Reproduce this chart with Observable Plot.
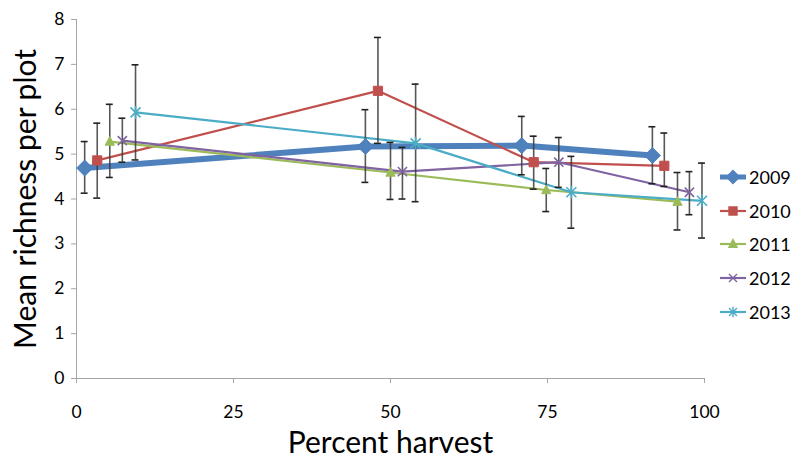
<!DOCTYPE html>
<html><head><meta charset="utf-8">
<script src="https://cdn.jsdelivr.net/npm/d3@7"></script>
<script src="https://cdn.jsdelivr.net/npm/@observablehq/plot@0.6"></script>
<style>
body{margin:0;background:#fff;font-family:Lato,"Open Sans",sans-serif;}
#wrap{position:relative;width:791px;height:465px;overflow:hidden;}
#legend{position:absolute;left:718px;top:160px;}
.item{display:flex;align-items:center;height:33.7px;font-size:18px;color:#000;}
.item svg{margin-right:1px;}
</style></head><body><div id="wrap"><div id="legend"></div></div>
<script>
// ---- data ----
const years = ["2009", "2010", "2011", "2012", "2013"];
const colors = ["#4F81BD", "#C0504D", "#9BBB59", "#8064A2", "#4BACC6"];
const xTicks = [0, 25, 50, 75, 100];
const yTicks = [0, 1, 2, 3, 4, 5, 6, 7, 8];

const harvest2009 = [1.3, 46.0, 70.9, 91.7];
const mean2009 = [4.69, 5.17, 5.19, 4.97];
const hi2009 = [5.28, 5.99, 5.84, 5.61];
const lo2009 = [4.13, 4.37, 4.54, 4.34];

const harvest2010 = [3.3, 48.0, 72.8, 93.6];
const mean2010 = [4.86, 6.41, 4.82, 4.74];
const hi2010 = [5.69, 7.60, 5.40, 5.47];
const lo2010 = [4.02, 5.24, 4.22, 4.28];

const harvest2011 = [5.3, 50.0, 74.8, 95.7];
const mean2011 = [5.28, 4.59, 4.20, 3.94];
const hi2011 = [6.11, 5.26, 4.68, 4.59];
const lo2011 = [4.48, 3.99, 3.72, 3.31];

const harvest2012 = [7.3, 51.9, 76.8, 97.6];
const mean2012 = [5.30, 4.61, 4.82, 4.15];
const hi2012 = [5.80, 5.15, 5.37, 4.61];
const lo2012 = [4.82, 4.00, 4.26, 3.65];

const harvest2013 = [9.4, 54.0, 78.8, 99.6];
const mean2013 = [5.93, 5.24, 4.15, 3.96];
const hi2013 = [6.99, 6.56, 4.95, 4.80];
const lo2013 = [4.87, 3.94, 3.35, 3.13];

const seriesX = [harvest2009, harvest2010, harvest2011, harvest2012, harvest2013];
const seriesY = [mean2009, mean2010, mean2011, mean2012, mean2013];
const seriesHi = [hi2009, hi2010, hi2011, hi2012, hi2013];
const seriesLo = [lo2009, lo2010, lo2011, lo2012, lo2013];

// ---- symbols ----
const rad = s => Math.sqrt(s / Math.PI);
const symDiamond = {draw(c, s){const r = rad(s); c.moveTo(0,-r); c.lineTo(r,0); c.lineTo(0,r); c.lineTo(-r,0); c.closePath();}};
const symSquare = {draw(c, s){const r = rad(s); c.rect(-r,-r,2*r,2*r);}};
const symTriangle = {draw(c, s){const r = rad(s); c.moveTo(0,-r*1.1); c.lineTo(r,r*0.8); c.lineTo(-r,r*0.8); c.closePath();}};
const symTimes = {draw(c, s){const r = rad(s); c.moveTo(-r,-r); c.lineTo(r,r); c.moveTo(r,-r); c.lineTo(-r,r);}};
const symStar = {draw(c, s){const r = rad(s); c.moveTo(-r,-r); c.lineTo(r,r); c.moveTo(r,-r); c.lineTo(-r,r); c.moveTo(0,-r*1.3); c.lineTo(0,r*1.3);}};
const symbols = [symDiamond, symSquare, symTriangle, symTimes, symStar];
const symR = [8, 4.6, 4.6, 4.6, 5];
const filled = [true, true, true, false, false];
const lineW = [6, 2.2, 2.2, 2.2, 2.2];

const rows = [];
years.forEach((yr, i) => seriesX[i].forEach((x, j) => rows.push({year: yr, i, x, y: seriesY[i][j], hi: seriesHi[i][j], lo: seriesLo[i][j]})));

const font = "Lato, 'Open Sans', sans-serif";
const marks = [
  Plot.ruleX([0], {stroke: "#A6A6A6", strokeWidth: 1}),
  Plot.ruleY([0], {stroke: "#A6A6A6", strokeWidth: 1}),
  Plot.axisY({ticks: yTicks, tickSize: 5, tickPadding: 7, fontSize: 17.5, stroke: "#A6A6A6", fill: "#000", label: null}),
  Plot.axisX({ticks: xTicks, tickSize: 5, tickPadding: 22, fontSize: 17.5, stroke: "#A6A6A6", fill: "#000", label: null}),
];
years.forEach((yr, i) => {
  const d = rows.filter(r => r.i === i);
  marks.push(Plot.line(d, {x: "x", y: "y", stroke: colors[i], strokeWidth: lineW[i], strokeLinejoin: "round"}));
});
marks.push(
  Plot.ruleX(rows, {x: "x", y1: "lo", y2: "hi", stroke: "#3a3a3a", strokeWidth: 1.6, strokeOpacity: 0.85}),
  Plot.ruleY(rows, {y: "hi", x1: d => d.x - 0.55, x2: d => d.x + 0.55, stroke: "#222", strokeWidth: 1.6}),
  Plot.ruleY(rows, {y: "lo", x1: d => d.x - 0.55, x2: d => d.x + 0.55, stroke: "#222", strokeWidth: 1.6})
);
years.forEach((yr, i) => {
  const d = rows.filter(r => r.i === i);
  marks.push(Plot.dot(d, {x: "x", y: "y", symbol: () => symbols[i], r: symR[i],
    fill: filled[i] ? colors[i] : "none", stroke: colors[i], strokeWidth: filled[i] ? 1 : 1.6}));
});
marks.push(
  Plot.text(["Percent harvest"], {frameAnchor: "bottom", dy: 74, fontSize: 30, fill: "#000", textAnchor: "middle"}),
  Plot.text(["Mean richness per plot"], {frameAnchor: "left", dx: -50, dy: 0, rotate: -90, fontSize: 30, fill: "#000", textAnchor: "middle"})
);

const chart = Plot.plot({
  width: 791, height: 465,
  marginLeft: 76, marginRight: 87, marginTop: 19, marginBottom: 87,
  x: {domain: [0, 100]},
  y: {domain: [0, 8]},
  symbol: {type: "identity"},
  style: {fontFamily: font, background: "#fff", color: "#000"},
  marks
});
document.getElementById("wrap").prepend(chart);

// legend
const leg = document.getElementById("legend");
years.forEach((yr, i) => {
  const item = document.createElement("div");
  item.className = "item";
  const s = d3.create("svg").attr("width", 30).attr("height", 20);
  s.append("line").attr("x1", 2).attr("x2", 28).attr("y1", 10).attr("y2", 10).attr("stroke", colors[i]).attr("stroke-width", i === 0 ? 5 : 2.2);
  const size = (i === 0 ? 6.5 : 4) ** 2 * Math.PI;
  s.append("path").attr("transform", "translate(15,10)").attr("d", d3.symbol(symbols[i], size)())
    .attr("fill", filled[i] ? colors[i] : "none").attr("stroke", colors[i]).attr("stroke-width", 1.4);
  item.appendChild(s.node());
  const t = document.createElement("span");
  t.textContent = yr;
  item.appendChild(t);
  leg.appendChild(item);
});
</script></body></html>
